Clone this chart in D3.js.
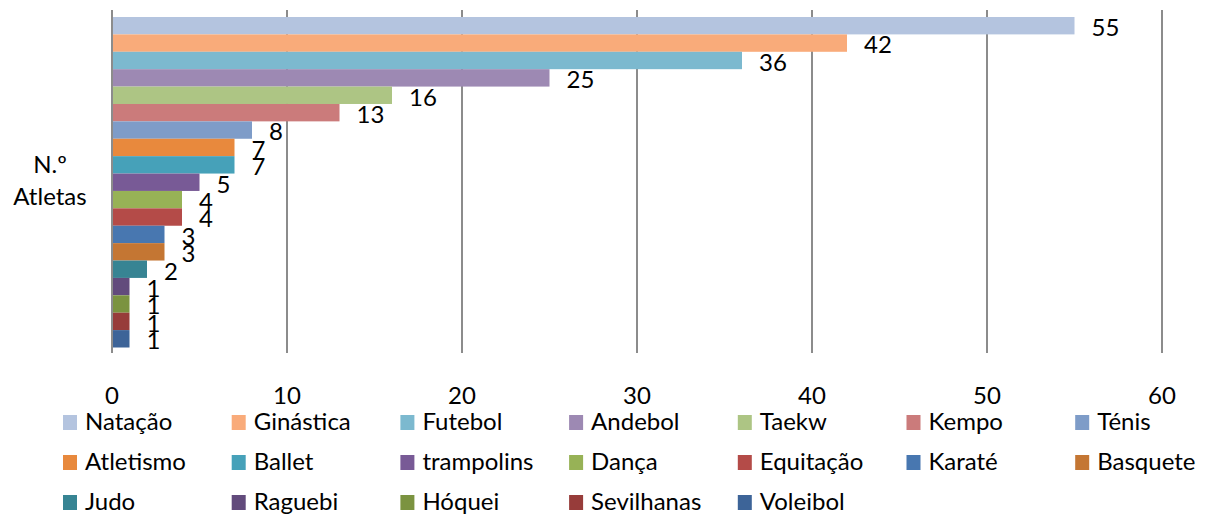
<!DOCTYPE html>
<html>
<head>
<meta charset="utf-8">
<script src="https://cdn.jsdelivr.net/npm/d3@7"></script>
<style>
  body { margin: 0; background: #fff; }
  svg text { font-family: Lato, 'Open Sans', sans-serif; fill: #000; }
</style>
</head>
<body>
<div id="chart"></div>
<script>
const W = 1209
const H = 516

// series (sports) in chart order, top to bottom
const sports = ['Natação', 'Ginástica', 'Futebol', 'Andebol', 'Taekw', 'Kempo', 'Ténis',
  'Atletismo', 'Ballet', 'trampolins', 'Dança', 'Equitação', 'Karaté', 'Basquete',
  'Judo', 'Raguebi', 'Hóquei', 'Sevilhanas', 'Voleibol']
const athletes = [55, 42, 36, 25, 16, 13, 8, 7, 7, 5, 4, 4, 3, 3, 2, 1, 1, 1, 1]
const colors = ['#B4C4DF', '#F9AB7A', '#7CB9CF', '#9D89B3', '#ADC584', '#CB7B7B', '#7E9CC8',
  '#E8893D', '#46A1B9', '#785A96', '#97B256', '#B44B48', '#4877B0', '#C47633',
  '#378493', '#624B7C', '#7B9340', '#973C3A', '#3D6498']
const xTicks = [0, 10, 20, 30, 40, 50, 60]
const categoryLabel = ['N.º', 'Atletas']

const data = sports.map((name, i) => ({ name, value: athletes[i], color: colors[i] }))

const svg = d3.select('#chart')
  .append('svg')
  .attr('width', W)
  .attr('height', H)

const plotTop = 10
const plotBottom = 353
const fontSize = '24px'

const x = d3.scaleLinear()
  .domain([0, 60])
  .range([112, 1162])

const y = d3.scaleBand()
  .domain(sports)
  .range([17, 347.5])
  .padding(0)

// vertical gridlines
svg.selectAll('.grid')
  .data(xTicks.slice(1))
  .join('line')
  .attr('x1', (d) => x(d))
  .attr('x2', (d) => x(d))
  .attr('y1', plotTop)
  .attr('y2', plotBottom)
  .attr('stroke', '#8c8c8c')
  .attr('stroke-width', 2)

// bars
svg.selectAll('.bar')
  .data(data)
  .join('rect')
  .attr('x', x(0) + 1)
  .attr('y', (d) => y(d.name))
  .attr('width', (d) => x(d.value) - x(0) - 1)
  .attr('height', y.bandwidth())
  .attr('fill', (d) => d.color)

// value labels
svg.selectAll('.val')
  .data(data)
  .join('text')
  .attr('x', (d) => x(d.value) + 17)
  .attr('y', (d) => y(d.name) + y.bandwidth() / 2 + 2)
  .attr('dy', '0.35em')
  .style('font-size', fontSize)
  .text((d) => d.value)

// left axis line
svg.append('line')
  .attr('x1', x(0))
  .attr('x2', x(0))
  .attr('y1', plotTop)
  .attr('y2', plotBottom)
  .attr('stroke', '#8c8c8c')
  .attr('stroke-width', 2)

// x tick labels
svg.selectAll('.tick')
  .data(xTicks)
  .join('text')
  .attr('x', (d) => x(d))
  .attr('y', 396)
  .attr('dy', '0.35em')
  .attr('text-anchor', 'middle')
  .style('font-size', fontSize)
  .text((d) => d)

// category label
svg.selectAll('.cat')
  .data(categoryLabel)
  .join('text')
  .attr('x', 50)
  .attr('y', (d, i) => 165 + i * 32)
  .attr('dy', '0.35em')
  .attr('text-anchor', 'middle')
  .style('font-size', fontSize)
  .text((d) => d)

// legend: 7 columns, 3 rows
const legend = svg.selectAll('.leg')
  .data(data)
  .join('g')
  .attr('transform', (d, i) => `translate(${63 + (i % 7) * 168.7},${422 + Math.floor(i / 7) * 40})`)

legend.append('rect')
  .attr('x', 0)
  .attr('y', -7)
  .attr('width', 14)
  .attr('height', 15)
  .attr('fill', (d) => d.color)

legend.append('text')
  .attr('x', 22)
  .attr('y', 0)
  .attr('dy', '0.35em')
  .style('font-size', fontSize)
  .text((d) => d.name)
</script>
</body>
</html>
